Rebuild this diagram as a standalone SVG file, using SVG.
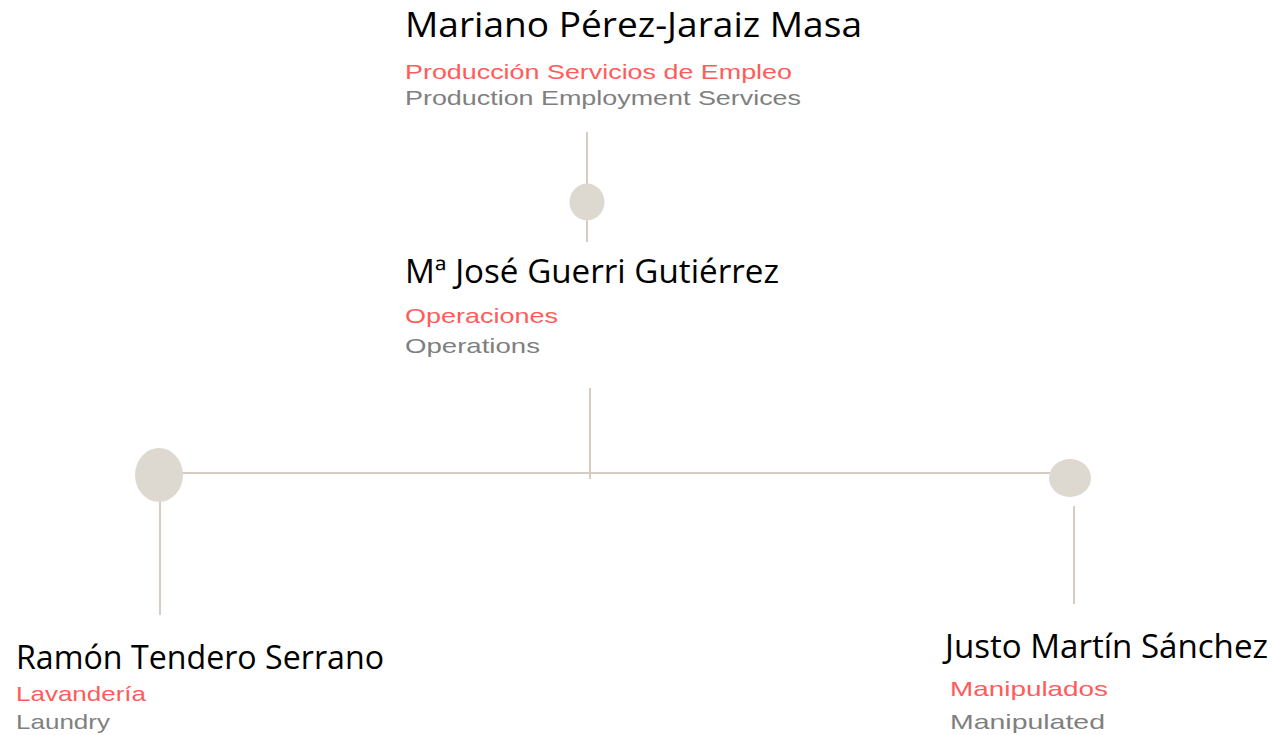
<svg xmlns="http://www.w3.org/2000/svg" width="1273" height="735" viewBox="0 0 1273 735">
<style>
.name{font-family:"Open Sans","Noto Sans","Liberation Sans",sans-serif;fill:#000;}
.es{font-family:"Liberation Sans",Arial,sans-serif;fill:#ff5b5b;font-size:21px;}
.en{font-family:"Liberation Sans",Arial,sans-serif;fill:#7f7f7f;font-size:21px;}
.ln{stroke:#d6ccc2;stroke-width:2;fill:none;}
.dot{fill:#ddd9d1;}
</style>
<rect width="1273" height="735" fill="#fff"/>
<g id="connectors">
<line class="ln" x1="587" y1="132" x2="587" y2="185"/>
<line class="ln" x1="587" y1="219" x2="587" y2="242"/>
<line class="ln" x1="590" y1="388" x2="590" y2="479"/>
<line class="ln" x1="180" y1="473" x2="1052" y2="473"/>
<line class="ln" x1="160" y1="494" x2="160" y2="615"/>
<line class="ln" x1="1074" y1="506" x2="1074" y2="604"/>
<ellipse class="dot" cx="587" cy="202" rx="17.5" ry="18.5"/>
<ellipse class="dot" cx="159" cy="475" rx="24" ry="27"/>
<ellipse class="dot" cx="1070" cy="478" rx="21" ry="19"/>
</g>
<g id="node-mariano">
<text class="name" x="405" y="37" font-size="34.5" textLength="457" lengthAdjust="spacingAndGlyphs">Mariano Pérez-Jaraiz  Masa</text>
<text class="es" x="405" y="79" textLength="387" lengthAdjust="spacingAndGlyphs">Producción  Servicios de Empleo</text>
<text class="en" x="405" y="105" textLength="396" lengthAdjust="spacingAndGlyphs">Production Employment Services</text>
</g>
<g id="node-mjose">
<text class="name" x="405" y="283" font-size="32" textLength="374" lengthAdjust="spacingAndGlyphs">Mª José Guerri Gutiérrez</text>
<text class="es" x="405" y="323" textLength="153" lengthAdjust="spacingAndGlyphs">Operaciones</text>
<text class="en" x="405" y="353" textLength="135" lengthAdjust="spacingAndGlyphs">Operations</text>
</g>
<g id="node-ramon">
<text class="name" x="16" y="669" font-size="32" textLength="368" lengthAdjust="spacingAndGlyphs">Ramón Tendero Serrano</text>
<text class="es" x="16" y="701" textLength="130" lengthAdjust="spacingAndGlyphs">Lavandería</text>
<text class="en" x="16" y="729" textLength="94" lengthAdjust="spacingAndGlyphs">Laundry</text>
</g>
<g id="node-justo">
<text class="name" x="945" y="658" font-size="32" textLength="323" lengthAdjust="spacingAndGlyphs">Justo Martín Sánchez</text>
<text class="es" x="950" y="696" textLength="158" lengthAdjust="spacingAndGlyphs">Manipulados</text>
<text class="en" x="950" y="729" textLength="155" lengthAdjust="spacingAndGlyphs">Manipulated</text>
</g>
</svg>
